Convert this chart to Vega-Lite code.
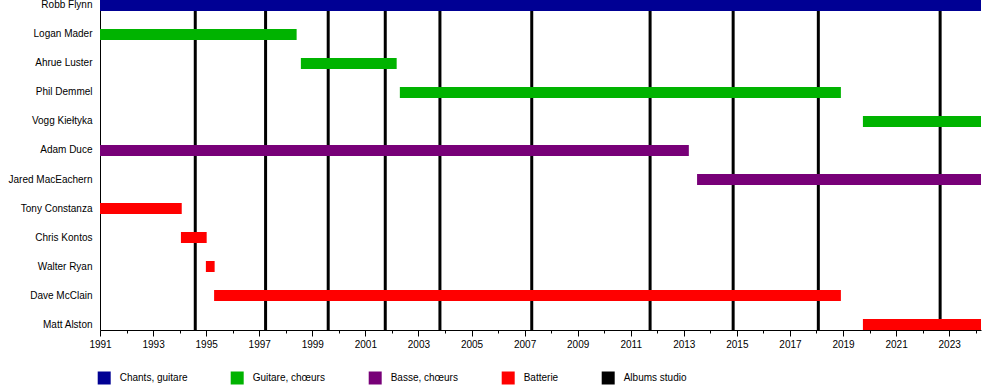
{
  "$schema": "https://vega.github.io/schema/vega-lite/v6.json",
  "width": 881,
  "height": 330,
  "autosize": "none",
  "padding": {"left": 100, "top": 0, "right": 19, "bottom": 60},
  "background": "white",
  "config": {
    "view": {"stroke": null},
    "font": "Liberation Sans",
    "axis": {
      "domainColor": "black",
      "tickColor": "black",
      "labelColor": "black",
      "labelFont": "Liberation Sans",
      "labelFontSize": 10,
      "grid": false,
      "title": null
    },
    "legend": {"labelFont": "Liberation Sans"}
  },
  "datasets": {
    "members": [
      {"name": "Robb Flynn", "role": "Chants, guitare", "start": 1991.0, "end": 2024.2},
      {"name": "Logan Mader", "role": "Guitare, chœurs", "start": 1991.0, "end": 1998.41},
      {"name": "Ahrue Luster", "role": "Guitare, chœurs", "start": 1998.57, "end": 2002.18},
      {"name": "Phil Demmel", "role": "Guitare, chœurs", "start": 2002.30, "end": 2018.92},
      {"name": "Vogg Kiełtyka", "role": "Guitare, chœurs", "start": 2019.75, "end": 2024.2},
      {"name": "Adam Duce", "role": "Basse, chœurs", "start": 1991.0, "end": 2013.19},
      {"name": "Jared MacEachern", "role": "Basse, chœurs", "start": 2013.50, "end": 2024.2},
      {"name": "Tony Constanza", "role": "Batterie", "start": 1991.0, "end": 1994.08},
      {"name": "Chris Kontos", "role": "Batterie", "start": 1994.05, "end": 1995.02},
      {"name": "Walter Ryan", "role": "Batterie", "start": 1994.99, "end": 1995.32},
      {"name": "Dave McClain", "role": "Batterie", "start": 1995.30, "end": 2018.92},
      {"name": "Matt Alston", "role": "Batterie", "start": 2019.75, "end": 2024.2}
    ],
    "albums": [
      {"title": "Burn My Eyes", "year": 1994.59},
      {"title": "The More Things Change...", "year": 1997.24},
      {"title": "The Burning Red", "year": 1999.60},
      {"title": "Supercharger", "year": 2001.75},
      {"title": "Through the Ashes of Empires", "year": 2003.81},
      {"title": "The Blackening", "year": 2007.27},
      {"title": "Unto the Locust", "year": 2011.73},
      {"title": "Bloodstone & Diamonds", "year": 2014.86},
      {"title": "Catharsis", "year": 2018.07},
      {"title": "Of Kingdom and Crown", "year": 2022.66}
    ]
  },
  "layer": [
    {
      "data": {"name": "albums"},
      "mark": {"type": "rule", "color": "black", "strokeWidth": 3},
      "encoding": {
        "x": {
          "field": "year",
          "type": "quantitative",
          "scale": {"domain": [1991, 2024.2], "nice": false, "zero": false},
          "axis": {
            "orient": "bottom",
            "values": [1992, 1994, 1996, 1998, 2000, 2002, 2004, 2006, 2008, 2010, 2012, 2014, 2016, 2018, 2020, 2022, 2024],
            "labels": false,
            "domain": false,
            "tickSize": 3,
            "title": null
          }
        }
      }
    },
    {
      "data": {"name": "members"},
      "mark": {"type": "bar"},
      "encoding": {
        "y": {
          "field": "name",
          "type": "nominal",
          "sort": ["Robb Flynn", "Logan Mader", "Ahrue Luster", "Phil Demmel", "Vogg Kiełtyka", "Adam Duce", "Jared MacEachern", "Tony Constanza", "Chris Kontos", "Walter Ryan", "Dave McClain", "Matt Alston"],
          "scale": {"paddingInner": 0.6207, "paddingOuter": 0},
          "axis": {"title": null, "ticks": false, "tickSize": 0, "labelPadding": 8, "domainColor": "black"}
        },
        "x": {
          "field": "start",
          "type": "quantitative",
          "axis": {
            "orient": "bottom",
            "values": [1991, 1993, 1995, 1997, 1999, 2001, 2003, 2005, 2007, 2009, 2011, 2013, 2015, 2017, 2019, 2021, 2023],
            "format": "d",
            "tickSize": 6,
            "labelPadding": 3,
            "labelFlush": false,
            "labelOverlap": false,
            "title": null
          }
        },
        "x2": {"field": "end"},
        "color": {
          "field": "role",
          "type": "nominal",
          "scale": {
            "domain": ["Chants, guitare", "Guitare, chœurs", "Basse, chœurs", "Batterie", "Albums studio"],
            "range": ["#000094", "#00b300", "#780078", "#ff0000", "#000000"]
          },
          "legend": {
            "title": null,
            "orient": "none",
            "direction": "horizontal",
            "legendX": -2.3,
            "legendY": 371.5,
            "padding": 0,
            "symbolType": "square",
            "symbolSize": 169,
            "symbolStrokeWidth": 0,
            "symbolOpacity": 1,
            "labelFontSize": 10,
            "labelColor": "black",
            "labelOffset": 9,
            "columnPadding": 43
          }
        }
      }
    }
  ],
  "resolve": {"axis": {"x": "independent"}}
}
